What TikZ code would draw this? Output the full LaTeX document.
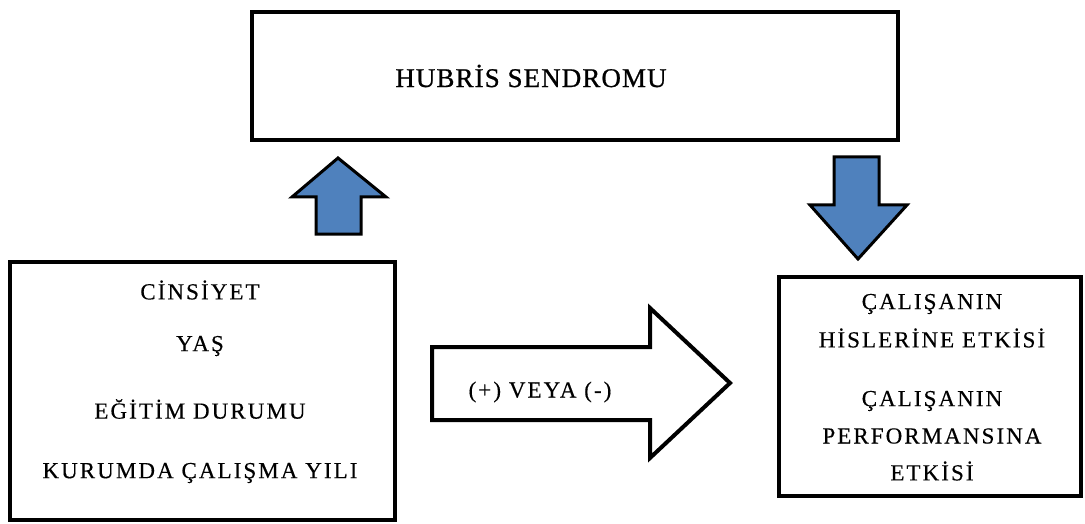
\documentclass[tikz,border=0pt]{standalone}
\usepackage{fontspec}
\setmainfont{Liberation Serif}
\newfontfamily\boxfont[LetterSpace=9,FakeBold=0.3]{Liberation Serif}
\newfontfamily\titlefont[LetterSpace=4,FakeBold=0.8]{Liberation Serif}
\definecolor{arrowblue}{HTML}{4F81BD}
\tikzset{
  frame/.style={draw=black, line width=4pt, fill=white},
  blockarrow/.style={draw=black, line width=3pt, line join=miter, fill=arrowblue},
  whitearrow/.style={draw=black, line width=4pt, line join=miter, fill=white},
  lbl/.style={font=\boxfont\fontsize{23}{23}\selectfont, inner sep=0pt, anchor=center},
}
\begin{document}
\begin{tikzpicture}[x=1pt,y=-1pt]
\useasboundingbox (0,0) rectangle (1085,524);
% boxes
\draw[frame] (252,12) rectangle (898,140);
\node[inner sep=0pt, font=\titlefont\fontsize{27}{27}\selectfont] (hubris) at (531,76) {HUBRİS SENDROMU};

\draw[frame] (10,262) rectangle (395,520);
\node[lbl] (cins) at (200,290) {CİNSİYET};
\node[lbl] (yas) at (200,346) {YAŞ};
\node[lbl] (egit) at (200,409) {EĞİTİM DURUMU};
\node[lbl] (kurum) at (200,473) {KURUMDA ÇALIŞMA YILI};

\draw[frame] (779,277) rectangle (1081,496);
\node[lbl] (c1) at (932,304) {ÇALIŞANIN};
\node[lbl] (c2) at (932,338) {HİSLERİNE ETKİSİ};
\node[lbl] (c3) at (932,401) {ÇALIŞANIN};
\node[lbl] (c4) at (932,436) {PERFORMANSINA};
\node[lbl] (c5) at (932,471) {ETKİSİ};

% up arrow
\draw[blockarrow] (338,158) -- (386,197) -- (361,197) -- (361,234) -- (316,234) -- (316,197) -- (292,197) -- cycle;
% down arrow
\draw[blockarrow] (834,157) -- (879,157) -- (879,205) -- (907,205) -- (858,259) -- (810,205) -- (834,205) -- cycle;
% right arrow
\draw[whitearrow] (432,347) -- (650,347) -- (650,308) -- (730,383) -- (650,458) -- (650,420) -- (432,420) -- cycle;
\node[lbl] (veya) at (540,392) {(+) VEYA (-)};
\end{tikzpicture}
\end{document}
